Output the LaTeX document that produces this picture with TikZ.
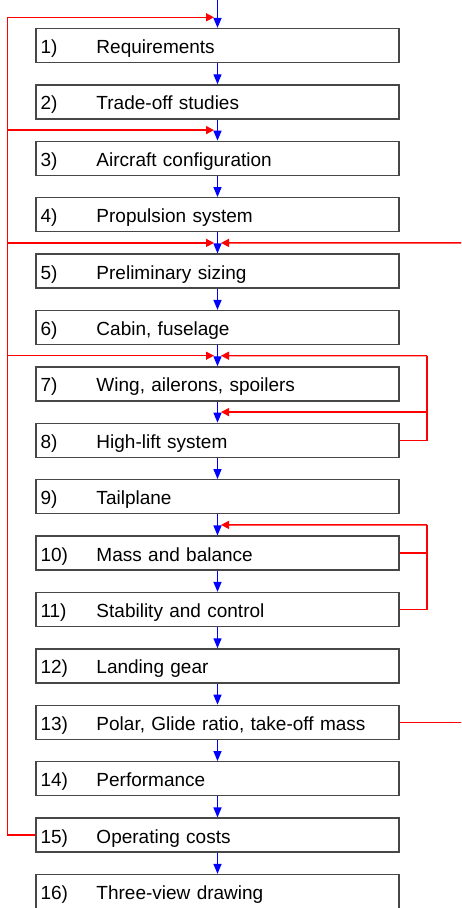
\documentclass[tikz,border=0pt]{standalone}
\usepackage{fontspec}
\setmainfont{Liberation Sans}
\usetikzlibrary{arrows.meta}
\tikzset{
  box/.style={draw=black!72, line width=1.3pt, text width=354pt, inner xsep=4.5pt, inner ysep=0pt,
    minimum height=34pt, text height=20pt, text depth=4.2pt, align=left,
    font=\fontsize{19}{22}\selectfont},
  flow/.style={draw=blue, line width=1.4pt, -{Triangle[length=10pt,width=8pt]}},
  fb/.style={draw=red, line width=1.4pt},
  fbarrow/.style={fb, -{Triangle[length=8pt,width=8pt]}, shorten >=3.5pt},
}
\begin{document}
\begin{tikzpicture}[x=1pt,y=-1pt]
\clip (0,0) rectangle (461,908);
% boxes
\foreach \i/\t in {1/Requirements, 2/Trade-off studies, 3/Aircraft configuration,
  4/Propulsion system, 5/Preliminary sizing, 6/{Cabin, fuselage},
  7/{Wing, ailerons, spoilers}, 8/High-lift system, 9/Tailplane,
  10/Mass and balance, 11/Stability and control, 12/Landing gear,
  13/{Polar, Glide ratio, take-off mass}, 14/Performance, 15/Operating costs,
  16/Three-view drawing}
  \node[box] (b\i) at (217.5,{45.5+56.4*(\i-1)}) {\makebox[56pt][l]{\i)}\t};
% gap coordinates on the main line
\foreach \i in {1,...,16}
  \coordinate (g\i) at (217.5,{17.3+56.4*(\i-1)});
\coordinate (top) at (217.5,0);
% main flow
\draw[flow] (top) -- (b1.north);
\foreach \i [evaluate=\i as \j using int(\i+1)] in {1,...,15}
  \draw[flow] (b\i.south) -- (b\j.north);
% left feedback bus
\coordinate (lb) at (7.3,17.3);
\draw[fb] (b15.west) -| (lb);
\draw[fbarrow] (lb) -- (g1);
\draw[fbarrow] (lb |- g3) -- (g3);
\draw[fbarrow] (lb |- g5) -- (g5);
\draw[fbarrow] (lb |- g7) -- (g7);
% right loop from 8
\coordinate (ra) at (427,355.7);
\draw[fb] (b8.east) -| (ra);
\draw[fbarrow] (ra) -- (g7);
\draw[fbarrow] (ra |- g8) -- (g8);
% right loop from 10/11
\coordinate (rb) at (427,524.9);
\draw[fb] (b11.east) -| (rb);
\draw[fb] (b10.east) -- (rb |- b10.east);
\draw[fbarrow] (rb) -- (g10);
% outer loop from 13
\coordinate (rc) at (470,242.9);
\draw[fb] (b13.east) -| (rc);
\draw[fbarrow] (rc) -- (g5);
\end{tikzpicture}
\end{document}
